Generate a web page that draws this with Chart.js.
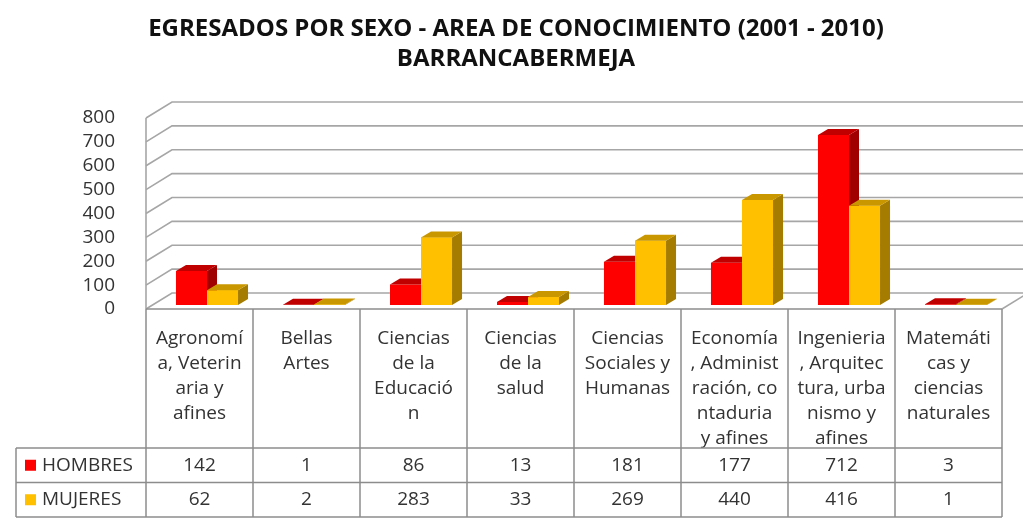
<!DOCTYPE html>
<html>
<head>
<meta charset="utf-8">
<script src="https://cdn.jsdelivr.net/npm/chart.js@4/dist/chart.umd.min.js"></script>
<style>
  html, body { margin: 0; padding: 0; background: #fff; }
</style>
</head>
<body>
<canvas id="chart" width="1023" height="521"></canvas>
<script>
// data
const categories = [
  "Agronomía, Veterinaria y afines",
  "Bellas Artes",
  "Ciencias de la Educación",
  "Ciencias de la salud",
  "Ciencias Sociales y Humanas",
  "Economía, Administración, contaduria y afines",
  "Ingenieria, Arquitectura, urbanismo y afines",
  "Matemáticas y ciencias naturales"
];
// header cells wrap the names like the original table does
const categoryLines = [
  ["Agronomí", "a, Veterin", "aria y", "afines"],
  ["Bellas", "Artes"],
  ["Ciencias", "de la", "Educació", "n"],
  ["Ciencias", "de la", "salud"],
  ["Ciencias", "Sociales y", "Humanas"],
  ["Economía", ", Administ", "ración, co", "ntaduria", "y afines"],
  ["Ingenieria", ", Arquitec", "tura, urba", "nismo y", "afines"],
  ["Matemáti", "cas y", "ciencias", "naturales"]
];
const seriesNames = ["HOMBRES", "MUJERES"];
const hombres = [142, 1, 86, 13, 181, 177, 712, 3];
const mujeres = [62, 2, 283, 33, 269, 440, 416, 1];
const yTicks = [0, 100, 200, 300, 400, 500, 600, 700, 800];
const titleLines = ["EGRESADOS POR SEXO - AREA DE CONOCIMIENTO (2001 - 2010)", "BARRANCABERMEJA"];

const FONT = "'Open Sans', sans-serif";
const TEXT = "#333";
const frontColors = ["#FF0000", "#FFC000"];
const topColors = ["#C00000", "#C99700"];
const sideColors = ["#A00000", "#A67C00"];

const BAR_SHIFT = { x: 7.5, y: -4 };   // bars sit a little behind the front axis
const BAR_DEPTH = { x: 10, y: -6 };
const WALL = { x: 26, y: -16 };
const TABLE = { legendLeft: 16, headBottom: 448, rowH: 34.5 };

function poly(ctx, pts, fill) {
  ctx.beginPath();
  ctx.moveTo(pts[0][0], pts[0][1]);
  for (let i = 1; i < pts.length; i++) ctx.lineTo(pts[i][0], pts[i][1]);
  ctx.closePath();
  ctx.fillStyle = fill;
  ctx.fill();
}

function drawFaces(ctx, bar, k) {
  const p = bar.getProps(["x", "y", "base", "width"], true);
  const l = p.x - p.width / 2, r = p.x + p.width / 2;
  const t = Math.min(p.y, p.base), b = Math.max(p.y, p.base);
  const dx = BAR_DEPTH.x, dy = BAR_DEPTH.y;
  poly(ctx, [[r, t], [r + dx, t + dy], [r + dx, b + dy], [r, b]], sideColors[k]);
  poly(ctx, [[l, t], [l + dx, t + dy], [r + dx, t + dy], [r, t]], topColors[k]);
}

function line(ctx, x1, y1, x2, y2) {
  ctx.beginPath();
  ctx.moveTo(x1, y1);
  ctx.lineTo(x2, y2);
  ctx.stroke();
}

const threeD = {
  id: "threeD",
  beforeDatasetsDraw(chart) {
    const { ctx, chartArea: a, scales: { y } } = chart;
    ctx.save();
    ctx.strokeStyle = "#a6a6a6";
    ctx.lineWidth = 1.6;
    yTicks.forEach(v => {
      const py = y.getPixelForValue(v);
      ctx.beginPath();
      ctx.moveTo(a.left, py);
      ctx.lineTo(a.left + WALL.x, py + WALL.y);
      ctx.lineTo(chart.width, py + WALL.y);
      ctx.stroke();
    });
    line(ctx, a.left, y.getPixelForValue(yTicks[yTicks.length - 1]), a.left, a.bottom);
    line(ctx, a.right, a.bottom, a.right + WALL.x, a.bottom + WALL.y);
    ctx.restore();
    ctx.save();
    ctx.translate(BAR_SHIFT.x, BAR_SHIFT.y);
  },
  afterDatasetsDraw(chart) {
    const ctx = chart.ctx;
    const m0 = chart.getDatasetMeta(0), m1 = chart.getDatasetMeta(1);
    for (let i = 0; i < categories.length; i++) {
      drawFaces(ctx, m0.data[i], 0);
      m1.data[i].draw(ctx);
      drawFaces(ctx, m1.data[i], 1);
    }
    ctx.restore();
  },
  afterDraw(chart) {
    const { ctx, chartArea: a, scales: { x } } = chart;
    const n = categories.length;
    const colW = (a.right - a.left) / n;
    const hb = TABLE.headBottom, rh = TABLE.rowH, ll = TABLE.legendLeft;
    const bottom = hb + 2 * rh;
    ctx.save();
    ctx.strokeStyle = "#8c8c8c";
    ctx.lineWidth = 1.5;
    line(ctx, a.left, a.bottom, a.right, a.bottom);
    for (let r = 0; r <= 2; r++) line(ctx, ll, hb + r * rh, a.right, hb + r * rh);
    for (let i = 0; i <= n; i++) line(ctx, a.left + i * colW, a.bottom, a.left + i * colW, bottom);
    line(ctx, ll, hb, ll, bottom);

    ctx.font = "19px " + FONT;
    ctx.textBaseline = "middle";
    [hombres, mujeres].forEach((vals, r) => {
      const cy = hb + rh * (r + 0.5);
      ctx.fillStyle = frontColors[r];
      ctx.fillRect(ll + 9, cy - 5.5, 11, 11);
      ctx.fillStyle = TEXT;
      ctx.textAlign = "left";
      ctx.fillText(seriesNames[r], ll + 26, cy);
      ctx.textAlign = "center";
      vals.forEach((v, i) => ctx.fillText(String(v), x.getPixelForValue(i), cy));
    });
    ctx.restore();
  }
};

new Chart(document.getElementById("chart"), {
  type: "bar",
  data: {
    labels: categories,
    datasets: [
      { label: seriesNames[0], data: hombres, backgroundColor: frontColors[0] },
      { label: seriesNames[1], data: mujeres, backgroundColor: frontColors[1] }
    ]
  },
  options: {
    responsive: false,
    animation: false,
    devicePixelRatio: 1,
    layout: { padding: { left: 9, right: 0, top: 0, bottom: 0 } },
    datasets: {
      bar: { categoryPercentage: 0.58, barPercentage: 1, borderWidth: 0, clip: false }
    },
    scales: {
      x: {
        grid: { display: false },
        border: { display: false },
        ticks: {
          autoSkip: false,
          maxRotation: 0,
          padding: 9,
          color: TEXT,
          font: { family: FONT, size: 19, lineHeight: "25px" },
          callback: (v, i) => categoryLines[i]
        },
        afterFit: s => { s.height = 212; }
      },
      y: {
        min: 0,
        max: 800,
        grid: { display: false },
        border: { display: false },
        ticks: {
          autoSkip: false,
          padding: 23,
          color: TEXT,
          font: { family: FONT, size: 19 }
        },
        afterBuildTicks: s => { s.ticks = yTicks.map(v => ({ value: v })); },
        afterFit: s => { s.width = 137; }
      },
      // empty strip on the right so the plot ends where the table does
      yRight: {
        position: "right",
        min: 0,
        max: 800,
        grid: { display: false },
        border: { display: false },
        ticks: { display: false },
        afterFit: s => { s.width = 21; }
      }
    },
    plugins: {
      legend: { display: false },
      tooltip: { enabled: false },
      title: {
        display: true,
        text: titleLines,
        color: "#111",
        font: { family: FONT, size: 24, weight: "bold", lineHeight: 1.25 },
        padding: { top: 14, bottom: 44 }
      }
    }
  },
  plugins: [threeD]
});
</script>
</body>
</html>
